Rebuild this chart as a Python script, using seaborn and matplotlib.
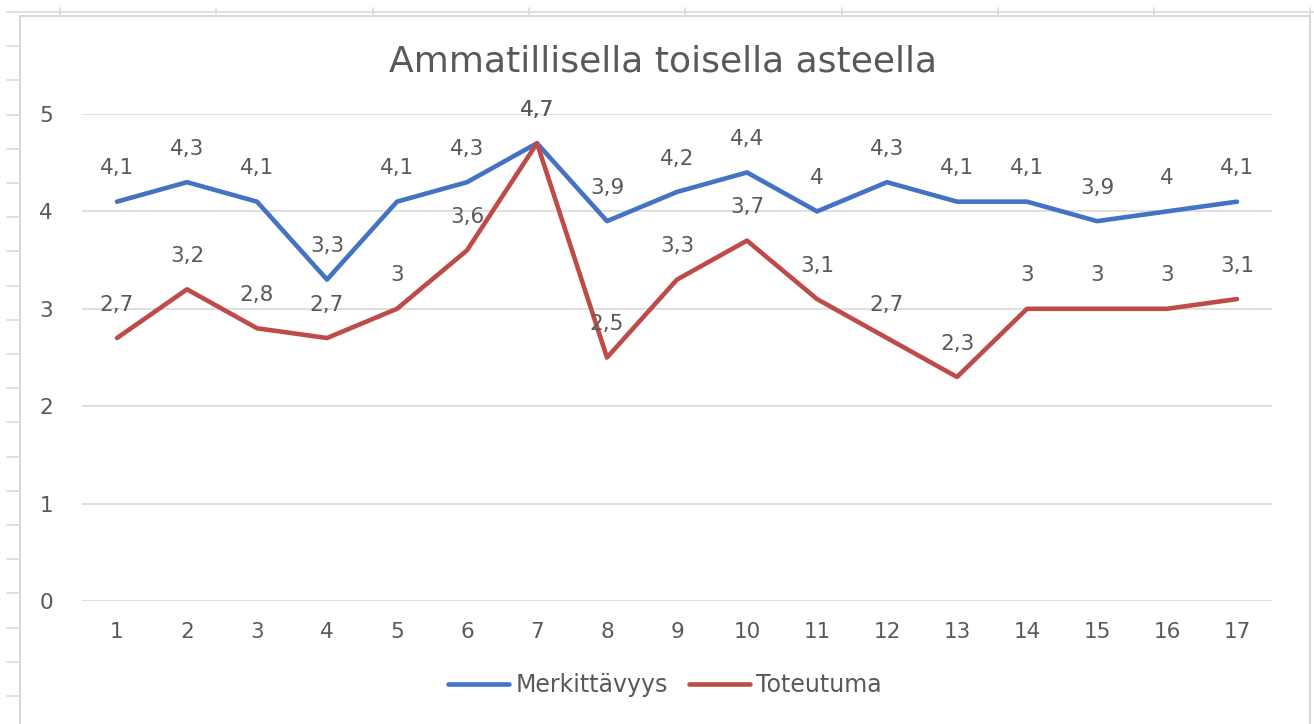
import matplotlib
matplotlib.use("Agg")
import matplotlib.pyplot as plt
import pandas as pd
import seaborn as sns
from matplotlib.lines import Line2D
from matplotlib.patches import Rectangle

# data
categories = list(range(1, 18))
merkittavyys = [4.1, 4.3, 4.1, 3.3, 4.1, 4.3, 4.7, 3.9, 4.2, 4.4, 4.0, 4.3, 4.1, 4.1, 3.9, 4.0, 4.1]
toteutuma = [2.7, 3.2, 2.8, 2.7, 3.0, 3.6, 4.7, 2.5, 3.3, 3.7, 3.1, 2.7, 2.3, 3.0, 3.0, 3.0, 3.1]
series_names = ["Merkittävyys", "Toteutuma"]
title = "Ammatillisella toisella asteella"

colors = {"Merkittävyys": "#4472C4", "Toteutuma": "#BE4B48"}
text_color = "#595959"
grid_color = "#D9D9D9"

df = pd.DataFrame({
    "x": categories * 2,
    "value": merkittavyys + toteutuma,
    "series": [series_names[0]] * len(categories) + [series_names[1]] * len(categories),
})

sns.set_style("white")
plt.rcParams["font.family"] = ["DejaVu Sans"]

fig = plt.figure(figsize=(13.14, 7.24), dpi=100)
ax = fig.add_axes([82 / 1314, 1 - 601 / 724, 1190 / 1314, 487 / 724])

sns.lineplot(data=df, x="x", y="value", hue="series", palette=colors,
             linewidth=3.3, ax=ax, legend=False, solid_capstyle="round")

ax.set_xlim(0.5, 17.5)
ax.set_ylim(0, 5)
ax.set_yticks(range(0, 6))
ax.set_xticks(categories)
ax.set_xlabel("")
ax.set_ylabel("")
ax.grid(axis="y", color=grid_color, linewidth=1.2)
ax.set_axisbelow(True)
for s in ax.spines.values():
    s.set_visible(False)
ax.tick_params(axis="both", length=0, labelsize=15.5, colors=text_color)
ax.tick_params(axis="y", pad=21)
ax.tick_params(axis="x", pad=15)


def fmt(v):
    return f"{v:g}".replace(".", ",")


# data labels above the points, like Excel's "Above" position
for name, vals in zip(series_names, [merkittavyys, toteutuma]):
    for x, v in zip(categories, vals):
        ax.annotate(fmt(v), (x, v), xytext=(0, 24), textcoords="offset points",
                    ha="center", va="center", fontsize=15.5, color=text_color,
                    annotation_clip=False)

fig.text(663 / 1314, 1 - 72 / 724, title, ha="center", va="baseline",
         fontsize=26, color=text_color)

handles = [Line2D([], [], color=colors[n], linewidth=3.3, solid_capstyle="round") for n in series_names]
fig.legend(handles, series_names, loc="center", bbox_to_anchor=(665 / 1314, 1 - 685 / 724),
           ncol=2, frameon=False, fontsize=17, handlelength=2.6, handletextpad=0.25,
           columnspacing=0.9, labelcolor=text_color)

# chart border and the spreadsheet cells around it
fig.add_artist(Rectangle((20 / 1314, -0.01), 1290 / 1314, 1 - 16 / 724 + 0.01,
                         transform=fig.transFigure, fill=False, edgecolor="#D0D0D0", linewidth=1.2))
cell_color = "#DADADA"
fig.add_artist(Line2D([7 / 1314, 1], [1 - 12 / 724] * 2, transform=fig.transFigure,
                      color=cell_color, linewidth=1.2))
for k in range(9):
    xp = (60 + 156.3 * k) / 1314
    fig.add_artist(Line2D([xp, xp], [1 - 8 / 724, 1 - 16 / 724], transform=fig.transFigure,
                          color=cell_color, linewidth=1.2))
for k in range(1, 21):
    yp = 1 - (12 + 34.2 * k) / 724
    fig.add_artist(Line2D([7 / 1314, 20 / 1314], [yp, yp], transform=fig.transFigure,
                          color=cell_color, linewidth=1.2))

fig.savefig("out.png", dpi=100)
